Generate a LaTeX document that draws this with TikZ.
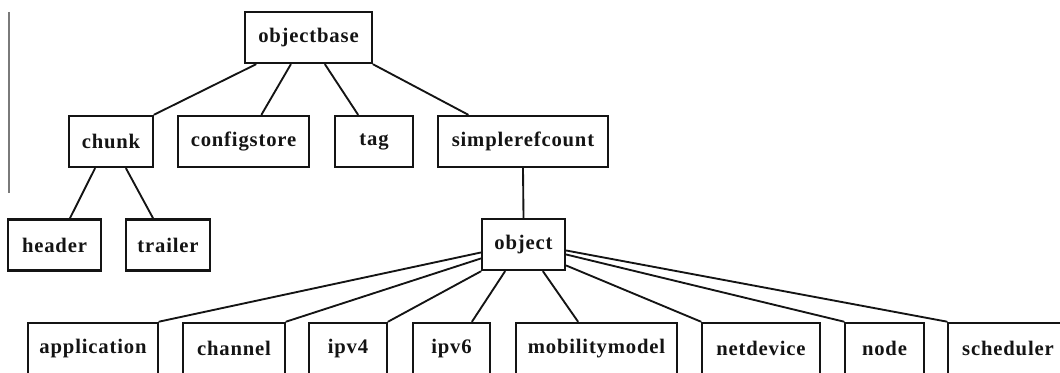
\documentclass[tikz,border=0pt]{standalone}
\usepackage{fontspec}
\setmainfont{Liberation Serif}
\newfontfamily\nslabelfont[LetterSpace=4]{Liberation Serif}
\usetikzlibrary{calc}
\definecolor{nsink}{HTML}{141414}
\definecolor{nsrule}{HTML}{7A7A7A}
\tikzset{
  nsbox/.style={
    draw=nsink, fill=white, line width=1.8pt, inner sep=0pt,
    minimum height=38.5pt,
    font=\nslabelfont\bfseries\fontsize{15.5}{17}\selectfont, text=nsink},
  nsline/.style={draw=nsink, line width=1.4pt},
  every picture/.style={line cap=round},
}

\begin{document}
\begin{tikzpicture}[x=0.75pt, y=-0.75pt]
\useasboundingbox (0, 0) rectangle (1060, 373);
\clip (0, 0) rectangle (1060, 373);

% Margin rule of the scanned page.
\draw[nsrule, line width=1.5pt, line cap=butt] (9, 12) -- (9, 193);

% Root and its children.
\node[nsbox, minimum width=95.25pt] (objectbase) at (308.5, 37.5) {objectbase};
\node[nsbox, minimum width=63pt] (chunk) at (111, 141.5) {chunk};
\node[nsbox, minimum width=98.25pt] (configstore) at (243.5, 141.5) {configstore};
\node[nsbox, minimum width=58.5pt] (tag) at (374, 141.5) {tag};
\node[nsbox, minimum width=127.5pt] (simplerefcount) at (523, 141.5) {simplerefcount};
\draw[nsline] ($(objectbase.south west)+(12, 0)$) -- (chunk.north east);
\draw[nsline] ($(objectbase.south west)+(47, 0)$) -- ($(configstore.north)+(18, 0)$);
\draw[nsline] ($(objectbase.south)+(16.5, 0)$) -- ($(tag.north)+(-16, 0)$);
\draw[nsline] (objectbase.south east) -- ($(simplerefcount.north)+(-55, 0)$);

% Under chunk.
\node[nsbox, minimum width=69.75pt] (header) at (54.5, 245) {header};
\node[nsbox, minimum width=63pt] (trailer) at (168, 245) {trailer};
\draw[nsline] ($(chunk.south)+(-16, 0)$) -- ($(header.north)+(15.5, 0)$);
\draw[nsline] ($(chunk.south)+(15, 0)$) -- ($(trailer.north)+(-15, 0)$);

% Under simplerefcount.
\node[nsbox, minimum width=62.25pt] (object) at (523.5, 244.5) {object};
\draw[nsline] (simplerefcount.south) -- (object.north);

% The object subclasses.
\node[nsbox, minimum width=97.5pt] (application) at (93, 348.5) {application};
\node[nsbox, minimum width=76.5pt] (channel) at (234, 348.5) {channel};
\node[nsbox, minimum width=58.5pt] (ipv4) at (348, 348.5) {ipv4};
\node[nsbox, minimum width=57.75pt] (ipv6) at (451.5, 348.5) {ipv6};
\node[nsbox, minimum width=120.75pt] (mobilitymodel) at (596.5, 348.5) {mobilitymodel};
\node[nsbox, minimum width=88.5pt] (netdevice) at (761, 348.5) {netdevice};
\node[nsbox, minimum width=59.25pt] (nodecls) at (884.5, 348.5) {node};
\node[nsbox, minimum width=90pt] (scheduler) at (1008, 348.5) {scheduler};
\draw[nsline] ($(object.west)+(0, 8)$) -- (application.north east);
\draw[nsline] ($(object.west)+(0, 14)$) -- (channel.north east);
\draw[nsline] (object.south west) -- (ipv4.north east);
\draw[nsline] ($(object.south)+(-18.5, 0)$) -- ($(ipv6.north)+(20.5, 0)$);
\draw[nsline] ($(object.south)+(19.5, 0)$) -- ($(mobilitymodel.north)+(-18.5, 0)$);
\draw[nsline] ($(object.east)+(0, 21)$) -- (netdevice.north west);
\draw[nsline] ($(object.east)+(0, 10)$) -- (nodecls.north west);
\draw[nsline] ($(object.east)+(0, 6)$) -- (scheduler.north west);

\end{tikzpicture}
\end{document}
